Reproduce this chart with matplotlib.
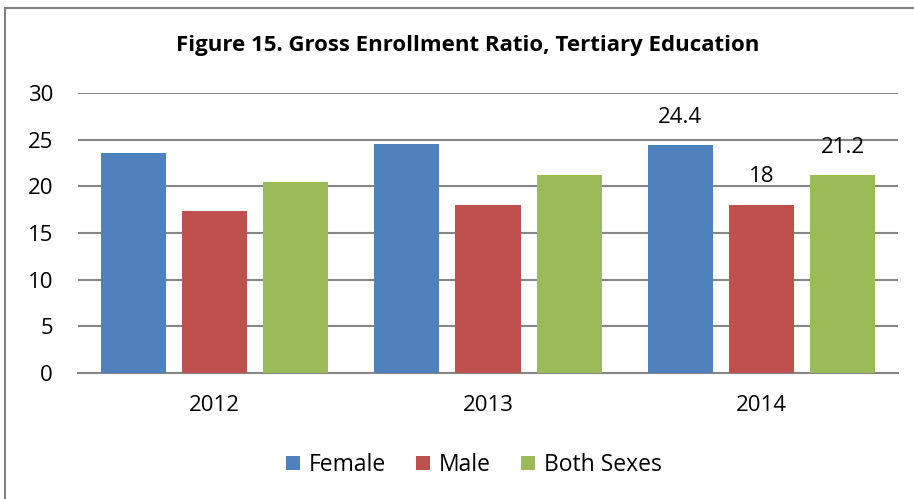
import matplotlib
matplotlib.use("Agg")
import matplotlib.pyplot as plt
import numpy as np
from matplotlib.patches import Rectangle

years = ["2012", "2013", "2014"]
series_names = ["Female", "Male", "Both Sexes"]
female = [23.6, 24.5, 24.4]
male = [17.4, 18.0, 18.0]
both = [20.5, 21.2, 21.2]
yticks = [0, 5, 10, 15, 20, 25, 30]

COLORS = ["#4F81BD", "#C0504D", "#9BBB59"]
GRID = "#868686"

plt.rcParams["font.family"] = ["Open Sans", "DejaVu Sans"]

W, H = 914, 499
fig = plt.figure(figsize=(W / 100, H / 100), dpi=100)
fig.patch.set_facecolor("white")

# outer chart frame (left and top edges visible)
fig.patches.append(Rectangle((5 / W, -0.1), 1.2, 1 - 8 / H + 0.1,
                             transform=fig.transFigure, fill=False,
                             edgecolor="#7F7F7F", linewidth=1.5))

ax = fig.add_axes([78 / W, 1 - 373 / H, (898 - 78) / W, (373 - 93) / H])
x = np.arange(len(years))
bw = 0.238
step = 0.297
for i, (name, vals) in enumerate(zip(series_names, [female, male, both])):
    ax.bar(x + (i - 1) * step, vals, width=bw, color=COLORS[i], label=name,
           zorder=3, edgecolor="none")

# data labels on last category only
for i, vals in enumerate([female, male, both]):
    v = vals[-1]
    ax.text(x[-1] + (i - 1) * step, v + 3.0, f"{v:g}", ha="center", va="center",
            fontsize=16, color="black")

ax.set_xlim(-0.5, len(years) - 0.5)
ax.set_ylim(0, 30)
ax.set_yticks(yticks)
ax.set_yticklabels([str(t) for t in yticks])
ax.set_xticks(x)
ax.set_xticklabels(years)
ax.tick_params(axis="both", length=0, labelsize=16, colors="black")
ax.tick_params(axis="y", pad=18)
ax.tick_params(axis="x", pad=16)
ax.grid(axis="y", color=GRID, linewidth=1.5, zorder=0)
ax.set_axisbelow(True)
for s in ("top", "right", "left"):
    ax.spines[s].set_visible(False)
ax.spines["bottom"].set_color(GRID)
ax.spines["bottom"].set_linewidth(1.5)

fig.text(468 / W, 1 - 45 / H, "Figure 15. Gross Enrollment Ratio, Tertiary Education",
         ha="center", va="center", fontsize=16, fontweight="bold")

ax.legend(loc="center", bbox_to_anchor=(474 / W, 1 - 465 / H),
          bbox_transform=fig.transFigure, ncol=3, frameon=False, fontsize=16.5,
          handlelength=0.6, handleheight=0.6, handletextpad=0.4, columnspacing=1.3)

fig.savefig("out.png", dpi=100, facecolor="white")
